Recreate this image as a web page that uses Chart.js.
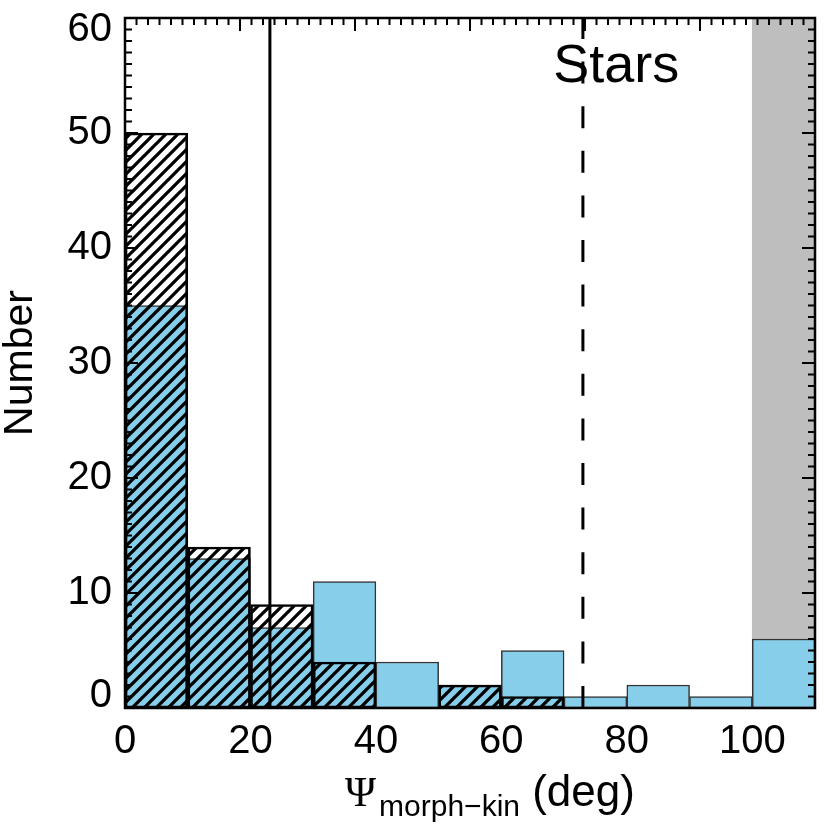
<!DOCTYPE html>
<html>
<head>
<meta charset="utf-8">
<script src="https://cdn.jsdelivr.net/npm/chart.js@4/dist/chart.umd.min.js"></script>
<style>
html,body{margin:0;padding:0;background:#fff;}
canvas{display:block;}
</style>
</head>
<body>
<canvas id="c" width="830" height="827"></canvas>
<script>
// ---- data ----
const binCenters = [5, 15, 25, 35, 45, 55, 65, 75, 85, 95, 105];
const blueCounts = [35, 13, 7, 11, 4, 2, 5, 1, 2, 1, 6];
const hatchCounts = [50, 14, 9, 4, 0, 2, 1, 0, 0, 0, 0];
const shadedBin = [105];       // grey band bin centre (100-110)
const shadedHeight = [60];
const solidLineX = 23.1;
const dashedLineX = 73;
const xTickValues = [0, 20, 40, 60, 80, 100];
const yTickValues = [0, 10, 20, 30, 40, 50, 60];
const panelLabel = 'Stars';

function hatchPattern() {
  const s = 12;
  const c = document.createElement('canvas');
  c.width = s; c.height = s;
  const g = c.getContext('2d');
  g.strokeStyle = '#000';
  g.lineWidth = 3.3;
  g.beginPath();
  g.moveTo(-2, s + 2); g.lineTo(s + 2, -2);
  g.moveTo(-3, 3); g.lineTo(3, -3);
  g.moveTo(s - 3, s + 3); g.lineTo(s + 3, s - 3);
  g.stroke();
  return g.createPattern(c, 'repeat');
}

const ctx = document.getElementById('c').getContext('2d');

const framePlugin = {
  id: 'frame',
  afterDatasetsDraw(chart) {
    const { ctx, chartArea: a, scales } = chart;
    const xs = scales.x, ys = scales.y;
    ctx.save();
    ctx.strokeStyle = '#000';
    ctx.lineWidth = 2;
    ctx.beginPath();
    for (let v = 0; v <= 60; v++) {
      const y = ys.getPixelForValue(v);
      const len = v % 10 === 0 ? 13 : 7;
      ctx.moveTo(a.left, y); ctx.lineTo(a.left + len, y);
      ctx.moveTo(a.right, y); ctx.lineTo(a.right - len, y);
    }
    for (let i = 0; i <= 60; i++) {
      const x = xs.getPixelForValue(i * 110 / 60);
      const len = i % 10 === 0 ? 13 : 7;
      ctx.moveTo(x, a.top); ctx.lineTo(x, a.top + len);
    }
    ctx.stroke();
    ctx.lineWidth = 2.5;
    ctx.strokeRect(a.left, a.top, a.right - a.left, a.bottom - a.top);
    ctx.fillStyle = '#000';
    ctx.font = '54px "Liberation Sans", Arial, sans-serif';
    ctx.textAlign = 'center';
    ctx.textBaseline = 'alphabetic';
    ctx.fillText(panelLabel, xs.getPixelForValue(78.3), ys.getPixelForValue(54.4));
    ctx.restore();
  },
  afterDraw(chart) {
    const { ctx } = chart;
    ctx.save();
    ctx.fillStyle = '#000';
    ctx.textBaseline = 'alphabetic';
    ctx.textAlign = 'left';
    const fPsi = '42px "Liberation Serif", "DejaVu Serif", serif';
    const fSub = '30px "Liberation Sans", Arial, sans-serif';
    const fMain = '44px "Liberation Sans", Arial, sans-serif';
    const psi = 'Ψ', sub = 'morph−kin', rest = ' (deg)';
    ctx.font = fPsi; const w1 = ctx.measureText(psi).width;
    ctx.font = fSub; const w2 = ctx.measureText(sub).width;
    ctx.font = fMain; const w3 = ctx.measureText(rest).width;
    const total = w1 + 3 + w2 + w3;
    let x = 490 - total / 2;
    const base = 806;
    ctx.font = fPsi; ctx.fillText(psi, x, base); x += w1 + 3;
    ctx.font = fSub; ctx.fillText(sub, x, base + 10); x += w2;
    ctx.font = fMain; ctx.fillText(rest, x, base);
    ctx.restore();
  }
};

const tickFont = { family: '"Liberation Sans", Arial, sans-serif', size: 40 };

new Chart(ctx, {
  type: 'bar',
  data: {
    datasets: [
      {
        label: 'all',
        data: binCenters.map((x, i) => ({ x, y: hatchCounts[i] === 0 ? null : hatchCounts[i] })),
        backgroundColor: hatchPattern(),
        borderColor: '#000',
        borderWidth: 2,
        borderSkipped: false,
        grouped: false,
        order: 0
      },
      {
        label: 'blue',
        data: binCenters.map((x, i) => ({ x, y: blueCounts[i] })),
        backgroundColor: '#87CEEB',
        borderColor: '#333333',
        borderWidth: 1.5,
        borderSkipped: false,
        grouped: false,
        order: 1
      },
      {
        label: 'shade',
        data: shadedBin.map((x, i) => ({ x, y: shadedHeight[i] })),
        backgroundColor: '#BEBEBE',
        borderWidth: 0,
        grouped: false,
        order: 3
      },
      {
        type: 'line',
        label: 'solid',
        data: [{ x: solidLineX, y: 0 }, { x: solidLineX, y: 60 }],
        borderColor: '#000',
        borderWidth: 3,
        pointRadius: 0,
        fill: false,
        order: -1
      },
      {
        type: 'line',
        label: 'dashed',
        data: [{ x: dashedLineX, y: 0 }, { x: dashedLineX, y: 60 }],
        borderColor: '#000',
        borderWidth: 3,
        borderDash: [22, 22.6],
        pointRadius: 0,
        fill: false,
        order: -1
      }
    ]
  },
  options: {
    responsive: false,
    devicePixelRatio: 1,
    animation: false,
    layout: { padding: { top: 18, right: 15, left: 0, bottom: 0 } },
    datasets: { bar: { barPercentage: 1, categoryPercentage: 1 } },
    plugins: { legend: { display: false }, tooltip: { enabled: false } },
    scales: {
      x: {
        type: 'linear',
        min: 0, max: 110,
        offset: false,
        grid: { display: false, drawTicks: false, offset: false },
        border: { display: false },
        afterBuildTicks(scale) { scale.ticks = xTickValues.map(v => ({ value: v })); },
        ticks: {
          padding: 10,
          color: '#000',
          maxRotation: 0,
          autoSkip: false,
          font: tickFont
        },
        afterFit(scale) {
          scale.height = 119;
          scale.paddingLeft = 0; scale.paddingRight = 0;
        }
      },
      y: {
        min: 0, max: 60,
        grid: { display: false, drawTicks: false },
        border: { display: false },
        afterBuildTicks(scale) { scale.ticks = yTickValues.map(v => ({ value: v })); },
        ticks: {
          padding: 13,
          color: '#000',
          autoSkip: false,
          // first and last labels sit inside the frame, as in the reference
          callback(value) {
            if (value === 60) return ['', String(value)];
            if (value === 0) return [String(value), ''];
            return String(value);
          },
          font(c) {
            const v = c.tick ? c.tick.value : null;
            if (v === 60 || v === 0) return Object.assign({}, tickFont, { lineHeight: '24px' });
            return tickFont;
          }
        },
        title: {
          display: true,
          text: 'Number',
          color: '#000',
          padding: { top: 0, bottom: 0 },
          font: { family: '"Liberation Sans", Arial, sans-serif', size: 41, lineHeight: 1.0 }
        },
        afterFit(scale) {
          scale.width = 125;
          scale.paddingTop = 0; scale.paddingBottom = 0;
        }
      }
    }
  },
  plugins: [framePlugin]
});
</script>
</body>
</html>
